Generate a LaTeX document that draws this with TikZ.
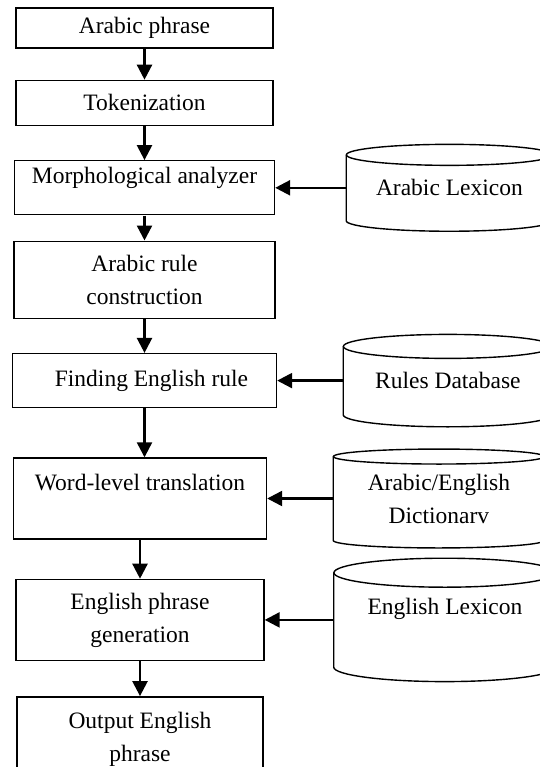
\documentclass[tikz,border=0pt]{standalone}
\usepackage{fontspec}
\setmainfont{Liberation Serif}
\usepackage{tikz}
\usetikzlibrary{positioning, calc, arrows.meta}

\begin{document}
\begin{tikzpicture}[x=1pt, y=1pt]
	\tikzstyle{procr}=[draw=black, line width=1.4pt, inner sep=2pt, align=center, text=black, font=\fontsize{23.5}{33}\selectfont]
	\tikzstyle{lexr}=[draw=none, inner sep=2pt, align=center, text=black, font=\fontsize{23.5}{33}\selectfont]
	\tikzstyle{flow}=[line width=2.4pt, -{Triangle[length=15pt, width=15pt]}]
	\tikzstyle{dbline}=[draw=black, line width=1.4pt]
	
	\useasboundingbox (0,0) rectangle (539,-767);
	
	%% processing chain
	\node [procr, minimum width=257, minimum height=40] (P1) at (144.5,-28) {Arabic phrase};
	\node [procr, below=31pt of P1, minimum width=257, minimum height=45] (P2) {Tokenization};
	\node [procr, below=34pt of P2, minimum width=260, minimum height=54, text depth=24pt] (P3) {Morphological analyzer};
	\node [procr, below=25pt of P3, minimum width=261, minimum height=77] (P4) {Arabic rule\\construction};
	\node [procr, below=34pt of P4, minimum width=264, minimum height=54] (P5) {\hspace*{14pt}Finding English rule};
	\node [procr, below=49pt of P5, xshift=-4.5pt, minimum width=253, minimum height=81, text depth=33pt] (P6) {Word-level translation};
	\node [procr, below=39pt of P6, minimum width=248, minimum height=81] (P7) {English phrase\\generation};
	\node [procr, below=35pt of P7, minimum width=246, minimum height=86] (P8) {Output English\\phrase};
	
	%% data stores
	\node [lexr, right=71pt of P3, minimum width=206, minimum height=65.5] (L1) {Arabic Lexicon};
	\node [lexr, right=66pt of P5, minimum width=209, minimum height=68] (L2) {Rules Database};
	\node [lexr, right=66pt of P6, minimum width=211, minimum height=83.5] (L3) {Arabic/English\\Dictionarv};
	\node [lexr, right=69pt of P7, minimum width=222, minimum height=94, text depth=27pt] (L4) {English Lexicon};
	
	\foreach \n/\w/\r in {L1/103/10.5, L2/104.5/12, L3/105.5/7.5, L4/111/14.5}
	{
		\draw [dbline] (\n.north west) -- (\n.south west) arc[start angle=180, end angle=360, x radius=\w, y radius=\r] -- (\n.north east);
		\draw [dbline] (\n.north) ellipse[x radius=\w, y radius=\r];
	}
	
	%% arrows
	\foreach \a/\b in {P1/P2, P2/P3, P3/P4, P4/P5, P5/P6, P6/P7, P7/P8}
		\draw [flow] (\a.south) -- (\a.south |- \b.north);
	\foreach \a/\b in {L1/P3, L2/P5, L3/P6, L4/P7}
		\draw [flow] (\a.west) -- (\a.west -| \b.east);
\end{tikzpicture}
\end{document}
